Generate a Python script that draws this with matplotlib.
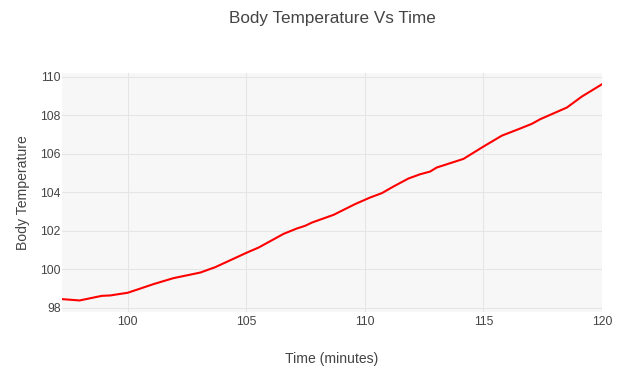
import matplotlib.pyplot as plt

plt.rcParams['font.family'] = 'Liberation Sans'

# 数据
time_min = [97.23, 97.97, 98.91, 99.26, 100.0, 100.39, 101.09, 101.93, 103.06, 103.69,
            105.03, 105.52, 106.57, 107.13, 107.48, 107.77, 108.68, 109.59, 110.22, 110.72,
            111.2, 111.84, 112.33, 112.75, 113.03, 114.16, 115.0, 115.78, 116.41, 117.04,
            117.39, 118.52, 119.15, 120.0]
body_temp = [98.45, 98.38, 98.62, 98.64, 98.78, 98.94, 99.23, 99.54, 99.83, 100.11,
             100.87, 101.13, 101.84, 102.12, 102.26, 102.43, 102.83, 103.39, 103.73, 103.96,
             104.30, 104.72, 104.94, 105.08, 105.29, 105.74, 106.38, 106.95, 107.25, 107.56,
             107.80, 108.41, 108.98, 109.62]
x_ticks = [100, 105, 110, 115, 120]
y_ticks = [98, 100, 102, 104, 106, 108, 110]

text_color = '#444444'

fig = plt.figure(figsize=(6.39, 3.88), dpi=100)
ax = fig.add_axes([62 / 639, 1 - 312 / 388, 540 / 639, 239.3 / 388])
ax.set_facecolor('#f7f7f7')

ax.plot(time_min, body_temp, color='red', linewidth=1.5)

ax.set_xlim(time_min[0], time_min[-1])
ax.set_ylim(97.78, 110.22)
ax.set_xticks(x_ticks)
ax.set_yticks(y_ticks)
ax.tick_params(length=0, labelsize=8.7, colors=text_color)
ax.tick_params(axis='x', pad=3)
ax.tick_params(axis='y', pad=1)
ax.grid(visible=True, color='#e5e5e5', linewidth=0.8)
ax.set_axisbelow(True)
for s in ax.spines.values():
    s.set_visible(False)

ax.set_title('Body Temperature Vs Time', fontsize=12.3, color=text_color, pad=36)
ax.set_xlabel('Time (minutes)', fontsize=10.1, color=text_color, labelpad=17)
ax.set_ylabel('Body Temperature', fontsize=10.1, color=text_color, labelpad=7)

plt.savefig('out.png', dpi=100)
